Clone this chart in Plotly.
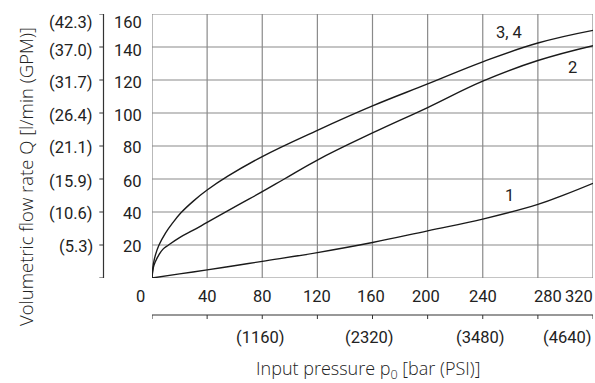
import plotly.graph_objects as go

# ---------------- data ----------------
p_curve1 = [0, 20, 40, 62, 80, 120, 160, 200, 240, 280, 300, 320]
q_curve1 = [0, 2.5, 4.9, 7.7, 10.1, 15.4, 21.5, 28.6, 35.7, 44.6, 50.7, 57.4]

p_curve2 = [0, 1, 2.5, 5, 8, 12, 20, 30, 40, 62, 80, 96, 120, 160, 200, 240, 280, 320]
q_curve2 = [0, 6.5, 10, 14, 17.5, 20, 24.5, 29, 33.7, 44, 52.3, 60, 71.5, 87.9, 103.3, 119.3, 131.8, 140.8]

p_curve34 = [0, 1, 2.5, 5, 10, 15, 21, 30, 40, 55, 80, 120, 160, 200, 240, 280, 320]
q_curve34 = [0, 8.5, 14, 19.8, 27.5, 33.4, 39.5, 46.6, 53.3, 61.7, 73.6, 89.5, 104.3, 117.6, 131, 142.4, 150.1]

curve_names = ["1", "2", "3, 4"]

x_ticks_bar = [0, 40, 80, 120, 160, 200, 240, 280, 320]
x_tick_labels_bar = ["0", "40", "80", "120", "160", "200", "240", "280", "320"]
x_ticks_psi = [80, 160, 240, 320]
x_tick_labels_psi = ["(1160)", "(2320)", "(3480)", "(4640)"]

y_ticks_lmin = [0, 20, 40, 60, 80, 100, 120, 140, 160]
y_tick_labels_lmin = ["", "20", "40", "60", "80", "100", "120", "140", "160"]
y_tick_labels_gpm = ["", "(5.3)", "(10.6)", "(15.9)", "(21.1)", "(26.4)", "(31.7)", "(37.0)", "(42.3)"]

x_title = "Input pressure p<sub>0</sub> [bar (PSI)]"
y_title = "Volumetric flow rate Q [l/min (GPM)]"

# ---------------- layout geometry ----------------
W, H = 595, 383
ML, MR, MT, MB = 152, 2, 14, 105

def px_x(px):
    return (px - ML) / (W - ML - MR)

def px_y(py):
    return (H - MB - py) / (H - MT - MB)

NUM_FONT = "Roboto, Liberation Sans, sans-serif"
TXT_FONT = "Open Sans, Noto Sans, sans-serif"
TXT = "#222222"
GRID = "#8a8a8a"
AX = "#333333"
NUM_SIZE = 16.5
numfont = dict(family=NUM_FONT, size=NUM_SIZE, color=TXT)

fig = go.Figure()

# grid drawn as a line trace through the tick values (below the curves)
gx_pts, gy_pts = [], []
for v in x_ticks_bar:
    gx_pts += [v, v, None]
    gy_pts += [y_ticks_lmin[0], y_ticks_lmin[-1], None]
for v in y_ticks_lmin:
    gx_pts += [x_ticks_bar[0], x_ticks_bar[-1], None]
    gy_pts += [v, v, None]
fig.add_trace(go.Scatter(x=gx_pts, y=gy_pts, mode="lines", line=dict(color=GRID, width=1.2),
                         showlegend=False, hoverinfo="skip", cliponaxis=False, connectgaps=False))

for xs, ys in [(p_curve1, q_curve1), (p_curve2, q_curve2), (p_curve34, q_curve34)]:
    fig.add_trace(go.Scatter(x=xs, y=ys, mode="lines",
                             line=dict(color="#1a1a1a", width=1.4, shape="spline", smoothing=1.2),
                             showlegend=False, hoverinfo="skip", cliponaxis=False))

fig.update_layout(
    width=W, height=H,
    margin=dict(l=ML, r=MR, t=MT, b=MB, pad=0, autoexpand=False),
    paper_bgcolor="white", plot_bgcolor="white",
    font=numfont,
    xaxis=dict(range=[0, 320], showticklabels=False, automargin=False, showgrid=False,
               zeroline=False, showline=False, ticks=""),
    yaxis=dict(range=[0, 160], showticklabels=False, automargin=False, showgrid=False,
               zeroline=False, showline=False, ticks=""),
)

shapes = []
# secondary (GPM) axis line on the left, with ticks pointing left
gx = px_x(103.5)
shapes.append(dict(type="line", xref="paper", yref="y", x0=gx, x1=gx,
                   y0=y_ticks_lmin[0], y1=y_ticks_lmin[-1], line=dict(color=AX, width=1.2)))
for v in y_ticks_lmin:
    shapes.append(dict(type="line", xref="paper", yref="y", x0=px_x(99.3), x1=gx,
                       y0=v, y1=v, line=dict(color=AX, width=1)))
# secondary (PSI) axis line below, with ticks pointing down
gy = px_y(315)
shapes.append(dict(type="line", xref="x", yref="paper", x0=x_ticks_bar[0], x1=x_ticks_bar[-1],
                   y0=gy, y1=gy, line=dict(color=AX, width=1.2)))
for v in x_ticks_bar:
    shapes.append(dict(type="line", xref="x", yref="paper", x0=v, x1=v,
                       y0=gy, y1=px_y(319), line=dict(color=AX, width=1)))
fig.update_layout(shapes=shapes)

ann = []
# bar tick labels (below plot)
bar_shift = {0: -12, 40: 0, 80: 0, 120: 0, 160: -2, 200: -2, 240: 0, 280: 10, 320: -14}
for v, t in zip(x_ticks_bar, x_tick_labels_bar):
    ann.append(dict(x=v, y=px_y(296), xref="x", yref="paper", text=t, showarrow=False,
                    xanchor="center", yanchor="middle", xshift=bar_shift[v], font=numfont))
# PSI tick labels
psi_shift = {80: -2, 160: -3, 240: -2, 320: -26}
for v, t in zip(x_ticks_psi, x_tick_labels_psi):
    ann.append(dict(x=v, y=px_y(337), xref="x", yref="paper", text=t, showarrow=False,
                    xanchor="center", yanchor="middle", xshift=psi_shift[v], font=numfont))
# l/min and GPM tick labels
y_shift = {0: 0, 20: 1.5, 40: 1.5, 60: 2, 80: 1.5, 100: 2, 120: 2, 140: 3.5, 160: 8.5}
for v, t1, t2 in zip(y_ticks_lmin, y_tick_labels_lmin, y_tick_labels_gpm):
    if t1:
        ann.append(dict(x=px_x(144), y=v, xref="paper", yref="y", text=t1, showarrow=False,
                        xanchor="right", yanchor="middle", yshift=-y_shift[v], font=numfont))
    if t2:
        ann.append(dict(x=px_x(95), y=v, xref="paper", yref="y", text=t2, showarrow=False,
                        xanchor="right", yanchor="middle", yshift=-y_shift[v], font=numfont))
# curve labels
for name, (lx, ly) in zip(curve_names, [(259.6, 50.3), (304.9, 127.6), (259.3, 149)]):
    ann.append(dict(x=lx, y=ly, xref="x", yref="y", text=name, showarrow=False,
                    xanchor="center", yanchor="middle", font=numfont))
# axis titles
ann.append(dict(x=px_x(368), y=px_y(369), xref="paper", yref="paper", text=x_title, showarrow=False,
                xanchor="center", yanchor="middle",
                font=dict(family=TXT_FONT, size=18, color=TXT, weight=300)))
ann.append(dict(x=px_x(25), y=px_y(176), xref="paper", yref="paper", text=y_title, showarrow=False,
                textangle=-90, xanchor="center", yanchor="middle",
                font=dict(family=TXT_FONT, size=18.5, color=TXT, weight=300)))
fig.update_layout(annotations=ann)

fig.write_html("out.html", config={"displayModeBar": False},
               post_script="document.body.style.margin='0';document.body.style.padding='0';")
